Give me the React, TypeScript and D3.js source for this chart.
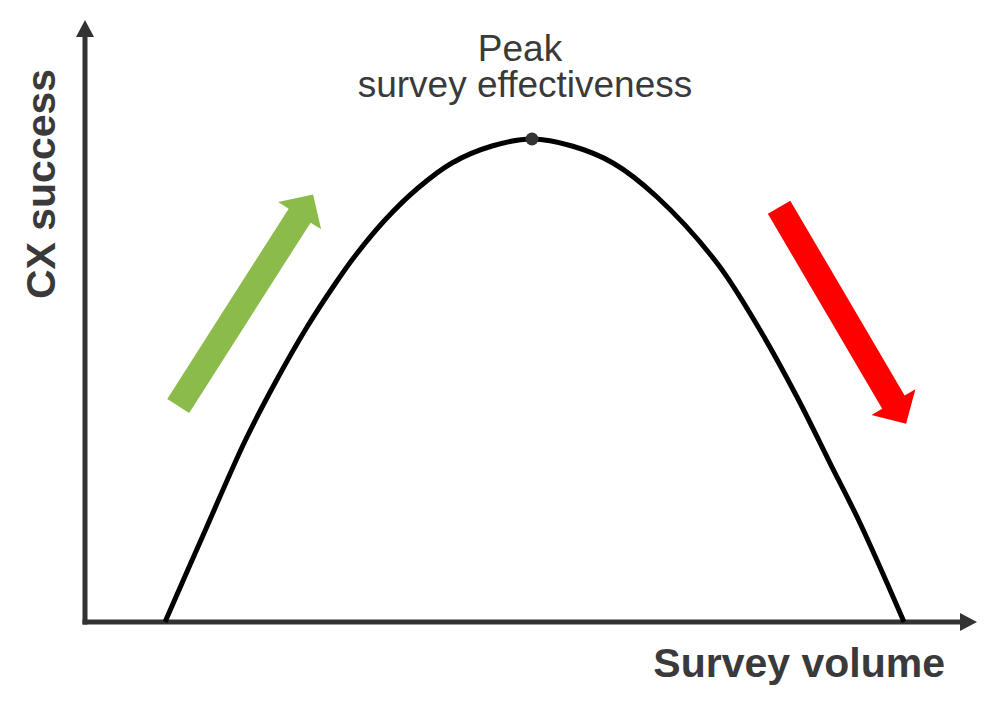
import * as d3 from 'd3';
import React, { useEffect, useRef } from 'react';

// curve (survey volume 0-100, CX success 0-100)
const surveyVolume = [8.97, 13.45, 17.94, 21.3, 24.89, 28.03, 30.27, 33.63, 37.33, 41.14, 45.63, 50.11, 54.6, 59.19, 64.13, 70.85, 75.67, 79.82, 83.52, 86.88, 91.82];
const cxSuccess = [0, 15.12, 30.07, 39.7, 49.0, 56.15, 60.8, 66.78, 72.09, 76.25, 79.07, 80.23, 79.07, 76.25, 70.6, 59.63, 48.5, 37.38, 26.41, 16.45, 0];

const peakIndex = 11;
const peakLabel = ['Peak', 'survey effectiveness'];
const xLabel = 'Survey volume';
const yLabel = 'CX success';

// trend arrows: from / to in chart values
const arrowNames = ['up', 'down'];
const arrowFrom = [[10.45, 35.9], [77.81, 68.9]];
const arrowTo = [[25.57, 71.0], [92.05, 32.95]];
const arrowColors = ['#8BBC4B', '#FF0000'];

export default () => {
    const ref = useRef<any>();

    function draw(): void {
        const dimensions: any = { width: 997, height: 712 };

        const svg = d3
            .select<any, any>(ref.current)
            .attr('width', dimensions.width)
            .attr('height', dimensions.height);
        svg.selectAll('*').remove();

        const x = d3.scaleLinear().domain([0, 100]).range([85, 977]);
        const y = d3.scaleLinear().domain([0, 100]).range([622, 20]);

        const axisColor = '#333333';
        const textColor = '#3a3a3a';
        const font = '"Liberation Sans", Arial, sans-serif';

        // axes (no ticks, just arrows)
        const axes = svg.append('g').attr('class', 'axes');
        axes.append('line')
            .attr('x1', x(0) - 2.5).attr('x2', x(100) - 16)
            .attr('y1', y(0)).attr('y2', y(0))
            .attr('stroke', axisColor).attr('stroke-width', 5);
        axes.append('path')
            .attr('d', `M${x(100)},${y(0)} L${x(100) - 17},${y(0) - 9} L${x(100) - 17},${y(0) + 9} Z`)
            .attr('fill', axisColor);
        axes.append('line')
            .attr('x1', x(0)).attr('x2', x(0))
            .attr('y1', y(0) + 2.5).attr('y2', y(100) + 16)
            .attr('stroke', axisColor).attr('stroke-width', 5);
        axes.append('path')
            .attr('d', `M${x(0)},${y(100)} L${x(0) - 9},${y(100) + 17} L${x(0) + 9},${y(100) + 17} Z`)
            .attr('fill', axisColor);

        // the curve
        const points: [number, number][] = surveyVolume.map((v, i) => [v, cxSuccess[i]]);
        const line = d3.line<[number, number]>()
            .x(d => x(d[0]))
            .y(d => y(d[1]))
            .curve(d3.curveCatmullRom.alpha(0.5));
        svg.append('path')
            .datum(points)
            .attr('fill', 'none')
            .attr('stroke', '#000')
            .attr('stroke-width', 5)
            .attr('d', line as any);

        // peak marker + label
        const px = x(surveyVolume[peakIndex]);
        const py = y(cxSuccess[peakIndex]);
        svg.append('circle')
            .attr('cx', px).attr('cy', py).attr('r', 6.5)
            .attr('fill', axisColor);
        svg.append('text')
            .attr('x', px - 12).attr('y', py - 78)
            .attr('text-anchor', 'middle')
            .style('font-family', font).style('font-size', '37px')
            .attr('fill', textColor)
            .text(peakLabel[0]);
        svg.append('text')
            .attr('x', px - 7).attr('y', py - 42)
            .attr('text-anchor', 'middle')
            .style('font-family', font).style('font-size', '37px')
            .attr('fill', textColor)
            .text(peakLabel[1]);

        // block arrows
        const shaft = 13, headHalf = 25.5, headLen = 25;
        svg.append('g').attr('class', 'trend-arrows')
            .selectAll('path')
            .data(arrowNames)
            .join('path')
            .attr('fill', (_d, i) => arrowColors[i])
            .attr('d', (_d, i) => {
                const x0 = x(arrowFrom[i][0]), y0 = y(arrowFrom[i][1]);
                const x1 = x(arrowTo[i][0]), y1 = y(arrowTo[i][1]);
                const len = Math.hypot(x1 - x0, y1 - y0);
                const ux = (x1 - x0) / len, uy = (y1 - y0) / len;
                const nx = -uy, ny = ux;
                const bx = x1 - ux * headLen, by = y1 - uy * headLen;
                const p = [
                    [x0 + nx * shaft, y0 + ny * shaft],
                    [bx + nx * shaft, by + ny * shaft],
                    [bx + nx * headHalf, by + ny * headHalf],
                    [x1, y1],
                    [bx - nx * headHalf, by - ny * headHalf],
                    [bx - nx * shaft, by - ny * shaft],
                    [x0 - nx * shaft, y0 - ny * shaft],
                ];
                return 'M' + p.map(q => q.join(',')).join('L') + 'Z';
            });

        // axis titles
        svg.append('text')
            .attr('x', 945).attr('y', 677)
            .attr('text-anchor', 'end')
            .style('font-family', font).style('font-size', '41px').style('font-weight', 'bold')
            .attr('fill', textColor)
            .text(xLabel);
        svg.append('text')
            .attr('transform', 'translate(55,184) rotate(-90)')
            .attr('text-anchor', 'middle')
            .style('font-family', font).style('font-size', '41px').style('font-weight', 'bold')
            .attr('fill', textColor)
            .text(yLabel);
    }

    useEffect(() => {
        draw();
    });

    return (
        <svg ref={ref} style={{ position: 'absolute', left: 0, top: 0, background: '#fff' }}></svg>
    );
};
